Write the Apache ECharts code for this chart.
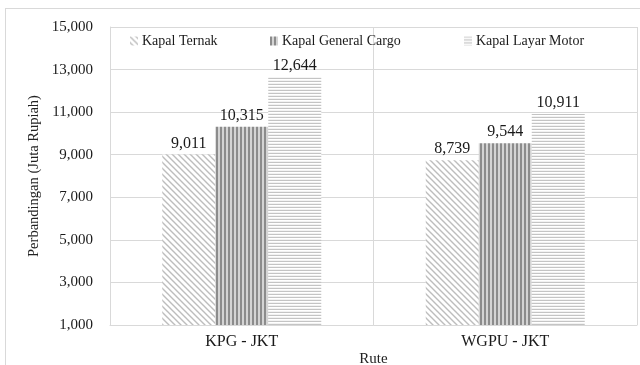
<!DOCTYPE html>
<html>
<head>
<meta charset="utf-8">
<script src="https://cdn.jsdelivr.net/npm/echarts@6/dist/echarts.min.js"></script>
<style>
  html, body { margin: 0; padding: 0; background: #fff; }
  #frame { position: absolute; left: 5px; top: 8px; width: 640px; height: 365px; border-left: 1px solid #d9d9d9; border-top: 1px solid #d9d9d9; }
  #chart { position: absolute; left: 0; top: 0; width: 640px; height: 365px; }
</style>
</head>
<body>
<div id="frame"></div>
<div id="chart"></div>
<script>
// Routes on the x axis
const routes = ['KPG - JKT', 'WGPU - JKT'];
// Ship types (series)
const shipTypes = ['Kapal Ternak', 'Kapal General Cargo', 'Kapal Layar Motor'];
// Values per ship type, one per route (Juta Rupiah)
const kapalTernak = [9011, 8739];
const kapalGeneralCargo = [10315, 9544];
const kapalLayarMotor = [12644, 10911];
// Value axis ticks
const yTicks = [1000, 3000, 5000, 7000, 9000, 11000, 13000, 15000];

const FONT = '"Liberation Serif", "Times New Roman", serif';

// Hatch fills drawn on small tiles and repeated
function tile(w, h, draw) {
  const c = document.createElement('canvas');
  c.width = w; c.height = h;
  const g = c.getContext('2d');
  g.fillStyle = '#fff';
  g.fillRect(0, 0, w, h);
  draw(g, w, h);
  return { image: c, repeat: 'repeat' };
}
const diagonalFill = tile(6, 6, (g, w, h) => {
  g.strokeStyle = '#bdbdbd';
  g.lineWidth = 1.4;
  g.beginPath();
  g.moveTo(-1, -1); g.lineTo(w + 1, h + 1);
  g.moveTo(-1, h - 1); g.lineTo(1, h + 1);
  g.moveTo(w - 1, -1); g.lineTo(w + 1, 1);
  g.stroke();
});
const verticalFill = tile(4, 4, (g, w, h) => {
  g.fillStyle = '#d4d4d4';
  g.fillRect(0, 0, w, h);
  g.fillStyle = '#8c8c8c';
  g.fillRect(0, 0, 2, h);
});
const horizontalFill = tile(4, 3, (g, w, h) => {
  g.fillStyle = '#c4c4c4';
  g.fillRect(0, 0, w, 1);
  g.fillStyle = '#f2f2f2';
  g.fillRect(0, 2, w, 1);
});
const fills = [diagonalFill, verticalFill, horizontalFill];
const values = [kapalTernak, kapalGeneralCargo, kapalLayarMotor];

const chart = echarts.init(document.getElementById('chart'), null, { renderer: 'canvas' });

const legendLeft = [125, 265, 459];
const legends = shipTypes.map((name, i) => ({
  data: [name],
  left: legendLeft[i],
  top: 29,
  itemWidth: 8,
  itemHeight: 9,
  itemGap: 4,
  icon: 'rect',
  textStyle: { fontFamily: FONT, fontSize: 14, color: '#1a1a1a', padding: [0, 0, 0, -1] }
}));

chart.setOption({
  animation: false,
  backgroundColor: 'transparent',
  textStyle: { fontFamily: FONT },
  legend: legends,
  grid: { left: 110, right: 3, top: 27, bottom: 40, outerBoundsMode: 'none', containLabel: false },
  xAxis: {
    type: 'category',
    data: routes,
    name: 'Rute',
    nameLocation: 'middle',
    nameGap: 27,
    nameMoveOverlap: false,
    nameTextStyle: { fontFamily: FONT, fontSize: 15, color: '#222' },
    axisLine: { show: true, lineStyle: { color: '#d9d9d9' } },
    axisTick: { show: false },
    axisLabel: { fontFamily: FONT, fontSize: 16, color: '#1a1a1a', margin: 9 },
    splitLine: { show: true, lineStyle: { color: '#d9d9d9' } }
  },
  yAxis: {
    type: 'value',
    min: yTicks[0],
    max: yTicks[yTicks.length - 1],
    interval: yTicks[1] - yTicks[0],
    name: 'Perbandingan (Juta Rupiah)',
    nameLocation: 'middle',
    nameGap: 68,
    nameMoveOverlap: false,
    nameTextStyle: { fontFamily: FONT, fontSize: 14.5, color: '#222' },
    axisLine: { show: true, lineStyle: { color: '#d9d9d9' } },
    axisTick: { show: false },
    axisLabel: {
      fontFamily: FONT, fontSize: 15, color: '#1a1a1a', margin: 17,
      formatter: v => v.toLocaleString('en-US')
    },
    splitLine: { show: true, lineStyle: { color: '#d9d9d9' } }
  },
  series: shipTypes.map((name, i) => ({
    name,
    type: 'bar',
    data: values[i],
    barWidth: 53,
    barGap: '0%',
    itemStyle: { color: fills[i] },
    label: {
      show: true,
      position: 'top',
      distance: 3,
      fontFamily: FONT,
      fontSize: 16,
      color: '#1a1a1a',
      formatter: p => p.value.toLocaleString('en-US')
    }
  }))
});
</script>
</body>
</html>
